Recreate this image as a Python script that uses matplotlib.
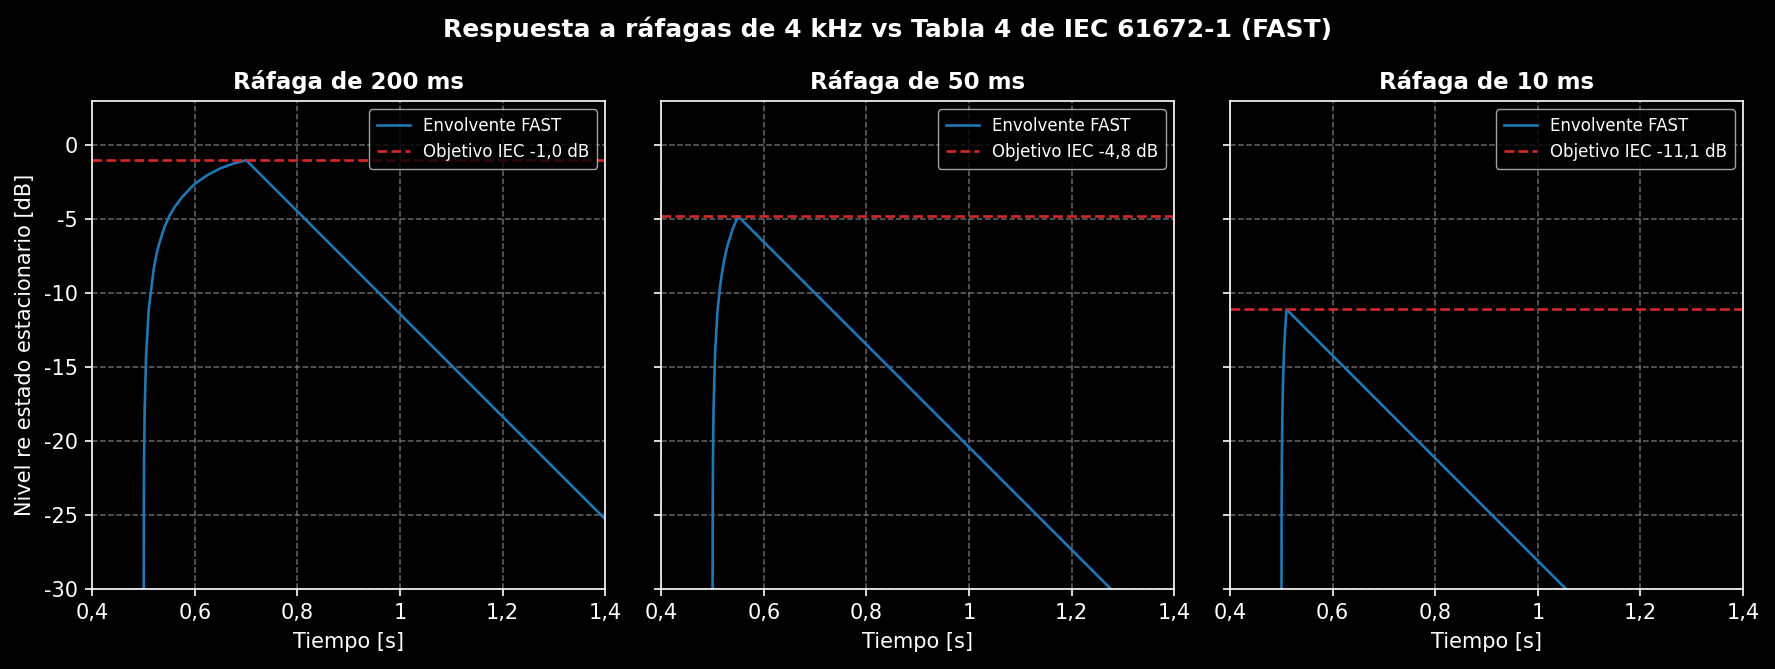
import matplotlib

matplotlib.use("Agg")
import matplotlib.pyplot as plt
from matplotlib.ticker import FuncFormatter

# burst durations and IEC 61672-1 Table 4 FAST targets
burst_labels = ["Ráfaga de 200 ms", "Ráfaga de 50 ms", "Ráfaga de 10 ms"]
target_db = [-1.0, -4.8, -11.1]

# envelope points (time [s], level [dB])
t_200 = [0.5, 0.5005, 0.501, 0.502, 0.505, 0.51, 0.52, 0.525, 0.53, 0.54, 0.55,
         0.56, 0.575, 0.6, 0.625, 0.65, 0.675, 0.7, 1.4]
l_200 = [-35, -24.0, -21.0, -18.0, -14.1, -11.1, -8.3, -7.4, -6.7, -5.6, -4.8,
         -4.2, -3.5, -2.6, -2.0, -1.55, -1.23, -1.0, -25.3]

t_50 = [0.5, 0.5005, 0.501, 0.502, 0.505, 0.51, 0.515, 0.52, 0.525, 0.53, 0.54,
        0.55, 1.4]
l_50 = [-35, -24.0, -21.0, -18.0, -14.1, -11.1, -9.5, -8.3, -7.4, -6.7, -5.6,
        -4.8, -34.3]

t_10 = [0.5, 0.5005, 0.501, 0.502, 0.503, 0.505, 0.5075, 0.51, 1.4]
l_10 = [-35, -24.0, -21.0, -18.0, -16.25, -14.1, -12.4, -11.1, -42.0]

times = [t_200, t_50, t_10]
levels = [l_200, l_50, l_10]

x_ticks = [0.4, 0.6, 0.8, 1.0, 1.2, 1.4]
y_ticks = [0, -5, -10, -15, -20, -25, -30]

plt.style.use("dark_background")
plt.rcParams["axes.unicode_minus"] = False
plt.rcParams["font.family"] = ["DejaVu Sans"]


def _comma(value, _pos=None):
    return f"{value:g}".replace(".", ",")


fig, axes = plt.subplots(1, 3, figsize=(17.75, 6.69), dpi=100, sharey=True)
fig.subplots_adjust(left=0.052, right=0.982, top=0.849, bottom=0.12, wspace=0.109)

for ax, title, tt, ll, target in zip(axes, burst_labels, times, levels, target_db):
    ax.plot(tt, ll, color="#1f77b4", linewidth=1.9, label="Envolvente FAST")
    target_txt = f"{target:.1f}".replace(".", ",")
    ax.axhline(target, color="#d62728", linestyle="--", linewidth=1.9,
               label=f"Objetivo IEC {target_txt} dB")
    ax.set_xlim(0.4, 1.4)
    ax.set_ylim(-30, 3)
    ax.set_xticks(x_ticks)
    ax.set_yticks(y_ticks)
    ax.xaxis.set_major_formatter(FuncFormatter(_comma))
    ax.yaxis.set_major_formatter(FuncFormatter(_comma))
    ax.tick_params(labelsize=15, length=5.25, width=1.2, pad=5.25)
    ax.grid(True, linestyle="--", color="gray", alpha=0.8, linewidth=1.1)
    ax.set_title(title, fontsize=16.5, fontweight="bold", pad=9)
    ax.set_xlabel("Tiempo [s]", fontsize=15, labelpad=6)
    for spine in ax.spines.values():
        spine.set_linewidth(1.2)
    ax.legend(loc="upper right", fontsize=12, borderpad=0.45)

axes[0].set_ylabel("Nivel re estado estacionario [dB]", fontsize=15, labelpad=6)
fig.suptitle("Respuesta a ráfagas de 4 kHz vs Tabla 4 de IEC 61672-1 (FAST)",
             fontsize=18, fontweight="bold", y=0.975)

fig.savefig("out.png", dpi=100)
plt.close(fig)
